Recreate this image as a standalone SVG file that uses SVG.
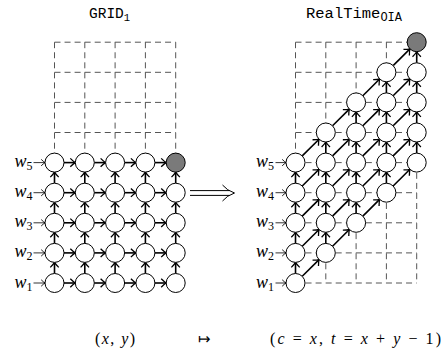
<svg xmlns="http://www.w3.org/2000/svg" width="444" height="362" viewBox="0 0 444 362">
<style>
.dash{stroke:#555;stroke-width:1;fill:none;stroke-dasharray:6 4.05}
.ar{stroke:#000;stroke-width:1.6;fill:none;marker-end:url(#ah)}
.in{stroke:#000;stroke-width:0.8;fill:none;marker-end:url(#ahs)}
.n{fill:#fff;stroke:#000;stroke-width:1}
.g{fill:#7a7a7a;stroke:#000;stroke-width:1}
.tt{font-family:"Liberation Mono",monospace;fill:#000}
.m{font-family:"Liberation Serif",serif;fill:#000}
.i{font-style:italic}
</style>
<defs>
<marker id="ah" markerUnits="userSpaceOnUse" markerWidth="12" markerHeight="12" refX="0" refY="0" viewBox="-6 -6 12 12" orient="auto" overflow="visible">
<path d="M-5,-4.2 Q-1.8,-1 0,0 Q-1.8,1 -5,4.2" fill="none" stroke="#000" stroke-width="1.3"/>
</marker>
<marker id="ahs" markerUnits="userSpaceOnUse" markerWidth="10" markerHeight="10" refX="0" refY="0" viewBox="-5 -5 10 10" orient="auto" overflow="visible">
<path d="M-3.8,-3.2 Q-1.3,-0.8 0,0 Q-1.3,0.8 -3.8,3.2" fill="none" stroke="#000" stroke-width="0.9"/>
</marker>
</defs>

<g id="titles">
<text class="tt" x="89" y="18" font-size="14.5">GRID<tspan font-size="10.5" dy="3">1</tspan></text>
<text class="tt" x="306" y="17.5" font-size="15.5">RealTime<tspan font-size="12" dy="3.5">OIA</tspan></text>
</g>

<g id="grid-left-dashed">
<path class="dash" d="M54.5,132.5H175.7M54.5,102.4H175.7M54.5,72.3H175.7M54.5,42.2H175.7"/>
<path class="dash" d="M54.5,42.2V162.6M84.8,42.2V162.6M115.1,42.2V162.6M145.4,42.2V162.6M175.7,42.2V162.6"/>
</g>

<g id="grid-right-dashed">
<path class="dash" d="M295.5,283H416.7M295.5,252.9H416.7M295.5,222.8H416.7M295.5,192.7H416.7M295.5,162.6H416.7M295.5,132.5H416.7M295.5,102.4H416.7M295.5,72.3H416.7M295.5,42.2H416.7"/>
<path class="dash" d="M295.5,42.2V283M325.8,42.2V283M356.1,42.2V283M386.4,42.2V283M416.7,42.2V283"/>
</g>

<g id="connectors">
<!-- left horizontal -->
<line class="ar" x1="64" y1="283" x2="75.3" y2="283"/><line class="ar" x1="94.3" y1="283" x2="105.6" y2="283"/><line class="ar" x1="124.6" y1="283" x2="135.9" y2="283"/><line class="ar" x1="154.9" y1="283" x2="166.2" y2="283"/>
<line class="ar" x1="64" y1="252.9" x2="75.3" y2="252.9"/><line class="ar" x1="94.3" y1="252.9" x2="105.6" y2="252.9"/><line class="ar" x1="124.6" y1="252.9" x2="135.9" y2="252.9"/><line class="ar" x1="154.9" y1="252.9" x2="166.2" y2="252.9"/>
<line class="ar" x1="64" y1="222.8" x2="75.3" y2="222.8"/><line class="ar" x1="94.3" y1="222.8" x2="105.6" y2="222.8"/><line class="ar" x1="124.6" y1="222.8" x2="135.9" y2="222.8"/><line class="ar" x1="154.9" y1="222.8" x2="166.2" y2="222.8"/>
<line class="ar" x1="64" y1="192.7" x2="75.3" y2="192.7"/><line class="ar" x1="94.3" y1="192.7" x2="105.6" y2="192.7"/><line class="ar" x1="124.6" y1="192.7" x2="135.9" y2="192.7"/><line class="ar" x1="154.9" y1="192.7" x2="166.2" y2="192.7"/>
<line class="ar" x1="64" y1="162.6" x2="75.3" y2="162.6"/><line class="ar" x1="94.3" y1="162.6" x2="105.6" y2="162.6"/><line class="ar" x1="124.6" y1="162.6" x2="135.9" y2="162.6"/><line class="ar" x1="154.9" y1="162.6" x2="166.2" y2="162.6"/>
<!-- left vertical -->
<line class="ar" x1="54.5" y1="273.5" x2="54.5" y2="262.4"/><line class="ar" x1="54.5" y1="243.4" x2="54.5" y2="232.3"/><line class="ar" x1="54.5" y1="213.3" x2="54.5" y2="202.2"/><line class="ar" x1="54.5" y1="183.2" x2="54.5" y2="172.1"/>
<line class="ar" x1="84.8" y1="273.5" x2="84.8" y2="262.4"/><line class="ar" x1="84.8" y1="243.4" x2="84.8" y2="232.3"/><line class="ar" x1="84.8" y1="213.3" x2="84.8" y2="202.2"/><line class="ar" x1="84.8" y1="183.2" x2="84.8" y2="172.1"/>
<line class="ar" x1="115.1" y1="273.5" x2="115.1" y2="262.4"/><line class="ar" x1="115.1" y1="243.4" x2="115.1" y2="232.3"/><line class="ar" x1="115.1" y1="213.3" x2="115.1" y2="202.2"/><line class="ar" x1="115.1" y1="183.2" x2="115.1" y2="172.1"/>
<line class="ar" x1="145.4" y1="273.5" x2="145.4" y2="262.4"/><line class="ar" x1="145.4" y1="243.4" x2="145.4" y2="232.3"/><line class="ar" x1="145.4" y1="213.3" x2="145.4" y2="202.2"/><line class="ar" x1="145.4" y1="183.2" x2="145.4" y2="172.1"/>
<line class="ar" x1="175.7" y1="273.5" x2="175.7" y2="262.4"/><line class="ar" x1="175.7" y1="243.4" x2="175.7" y2="232.3"/><line class="ar" x1="175.7" y1="213.3" x2="175.7" y2="202.2"/><line class="ar" x1="175.7" y1="183.2" x2="175.7" y2="172.1"/>
<!-- left inputs -->
<line class="in" x1="33.5" y1="283" x2="45" y2="283"/><line class="in" x1="33.5" y1="252.9" x2="45" y2="252.9"/><line class="in" x1="33.5" y1="222.8" x2="45" y2="222.8"/><line class="in" x1="33.5" y1="192.7" x2="45" y2="192.7"/><line class="in" x1="33.5" y1="162.6" x2="45" y2="162.6"/>

<!-- right vertical -->
<line class="ar" x1="295.5" y1="273.5" x2="295.5" y2="262.4"/><line class="ar" x1="295.5" y1="243.4" x2="295.5" y2="232.3"/><line class="ar" x1="295.5" y1="213.3" x2="295.5" y2="202.2"/><line class="ar" x1="295.5" y1="183.2" x2="295.5" y2="172.1"/>
<line class="ar" x1="325.8" y1="243.4" x2="325.8" y2="232.3"/><line class="ar" x1="325.8" y1="213.3" x2="325.8" y2="202.2"/><line class="ar" x1="325.8" y1="183.2" x2="325.8" y2="172.1"/><line class="ar" x1="325.8" y1="153.1" x2="325.8" y2="142"/>
<line class="ar" x1="356.1" y1="213.3" x2="356.1" y2="202.2"/><line class="ar" x1="356.1" y1="183.2" x2="356.1" y2="172.1"/><line class="ar" x1="356.1" y1="153.1" x2="356.1" y2="142"/><line class="ar" x1="356.1" y1="123" x2="356.1" y2="111.9"/>
<line class="ar" x1="386.4" y1="183.2" x2="386.4" y2="172.1"/><line class="ar" x1="386.4" y1="153.1" x2="386.4" y2="142"/><line class="ar" x1="386.4" y1="123" x2="386.4" y2="111.9"/><line class="ar" x1="386.4" y1="92.9" x2="386.4" y2="81.8"/>
<line class="ar" x1="416.7" y1="153.1" x2="416.7" y2="142"/><line class="ar" x1="416.7" y1="123" x2="416.7" y2="111.9"/><line class="ar" x1="416.7" y1="92.9" x2="416.7" y2="81.8"/><line class="ar" x1="416.7" y1="62.8" x2="416.7" y2="51.7"/>
<!-- right diagonal -->
<line class="ar" x1="302.24" y1="276.3" x2="319.06" y2="259.6"/><line class="ar" x1="302.24" y1="246.2" x2="319.06" y2="229.5"/><line class="ar" x1="302.24" y1="216.1" x2="319.06" y2="199.4"/><line class="ar" x1="302.24" y1="186" x2="319.06" y2="169.3"/><line class="ar" x1="302.24" y1="155.9" x2="319.06" y2="139.2"/>
<line class="ar" x1="332.54" y1="246.2" x2="349.36" y2="229.5"/><line class="ar" x1="332.54" y1="216.1" x2="349.36" y2="199.4"/><line class="ar" x1="332.54" y1="186" x2="349.36" y2="169.3"/><line class="ar" x1="332.54" y1="155.9" x2="349.36" y2="139.2"/><line class="ar" x1="332.54" y1="125.8" x2="349.36" y2="109.1"/>
<line class="ar" x1="362.84" y1="216.1" x2="379.66" y2="199.4"/><line class="ar" x1="362.84" y1="186" x2="379.66" y2="169.3"/><line class="ar" x1="362.84" y1="155.9" x2="379.66" y2="139.2"/><line class="ar" x1="362.84" y1="125.8" x2="379.66" y2="109.1"/><line class="ar" x1="362.84" y1="95.7" x2="379.66" y2="79"/>
<line class="ar" x1="393.14" y1="186" x2="409.96" y2="169.3"/><line class="ar" x1="393.14" y1="155.9" x2="409.96" y2="139.2"/><line class="ar" x1="393.14" y1="125.8" x2="409.96" y2="109.1"/><line class="ar" x1="393.14" y1="95.7" x2="409.96" y2="79"/><line class="ar" x1="393.14" y1="65.6" x2="409.96" y2="48.9"/>
<!-- right inputs -->
<line class="in" x1="275.5" y1="283" x2="286" y2="283"/><line class="in" x1="275.5" y1="252.9" x2="286" y2="252.9"/><line class="in" x1="275.5" y1="222.8" x2="286" y2="222.8"/><line class="in" x1="275.5" y1="192.7" x2="286" y2="192.7"/><line class="in" x1="275.5" y1="162.6" x2="286" y2="162.6"/>
<!-- mapping arrow -->
<path d="M190,190.6H229.5M190,195.4H229.5" stroke="#000" stroke-width="1" fill="none"/>
<path d="M222.5,185 Q227,190.5 234.5,193 Q227,195.5 222.5,201" stroke="#000" stroke-width="1" fill="none"/>
</g>

<g id="nodes-left">
<g id="L11"><circle class="n" cx="54.5" cy="283" r="9.5"/></g>
<g id="L21"><circle class="n" cx="84.8" cy="283" r="9.5"/></g>
<g id="L31"><circle class="n" cx="115.1" cy="283" r="9.5"/></g>
<g id="L41"><circle class="n" cx="145.4" cy="283" r="9.5"/></g>
<g id="L51"><circle class="n" cx="175.7" cy="283" r="9.5"/></g>
<g id="L12"><circle class="n" cx="54.5" cy="252.9" r="9.5"/></g>
<g id="L22"><circle class="n" cx="84.8" cy="252.9" r="9.5"/></g>
<g id="L32"><circle class="n" cx="115.1" cy="252.9" r="9.5"/></g>
<g id="L42"><circle class="n" cx="145.4" cy="252.9" r="9.5"/></g>
<g id="L52"><circle class="n" cx="175.7" cy="252.9" r="9.5"/></g>
<g id="L13"><circle class="n" cx="54.5" cy="222.8" r="9.5"/></g>
<g id="L23"><circle class="n" cx="84.8" cy="222.8" r="9.5"/></g>
<g id="L33"><circle class="n" cx="115.1" cy="222.8" r="9.5"/></g>
<g id="L43"><circle class="n" cx="145.4" cy="222.8" r="9.5"/></g>
<g id="L53"><circle class="n" cx="175.7" cy="222.8" r="9.5"/></g>
<g id="L14"><circle class="n" cx="54.5" cy="192.7" r="9.5"/></g>
<g id="L24"><circle class="n" cx="84.8" cy="192.7" r="9.5"/></g>
<g id="L34"><circle class="n" cx="115.1" cy="192.7" r="9.5"/></g>
<g id="L44"><circle class="n" cx="145.4" cy="192.7" r="9.5"/></g>
<g id="L54"><circle class="n" cx="175.7" cy="192.7" r="9.5"/></g>
<g id="L15"><circle class="n" cx="54.5" cy="162.6" r="9.5"/></g>
<g id="L25"><circle class="n" cx="84.8" cy="162.6" r="9.5"/></g>
<g id="L35"><circle class="n" cx="115.1" cy="162.6" r="9.5"/></g>
<g id="L45"><circle class="n" cx="145.4" cy="162.6" r="9.5"/></g>
<g id="L55"><circle class="g" cx="175.7" cy="162.6" r="9.5"/></g>
</g>

<g id="nodes-right">
<g id="R11"><circle class="n" cx="295.5" cy="283" r="9.5"/></g>
<g id="R12"><circle class="n" cx="295.5" cy="252.9" r="9.5"/></g>
<g id="R13"><circle class="n" cx="295.5" cy="222.8" r="9.5"/></g>
<g id="R14"><circle class="n" cx="295.5" cy="192.7" r="9.5"/></g>
<g id="R15"><circle class="n" cx="295.5" cy="162.6" r="9.5"/></g>
<g id="R22"><circle class="n" cx="325.8" cy="252.9" r="9.5"/></g>
<g id="R23"><circle class="n" cx="325.8" cy="222.8" r="9.5"/></g>
<g id="R24"><circle class="n" cx="325.8" cy="192.7" r="9.5"/></g>
<g id="R25"><circle class="n" cx="325.8" cy="162.6" r="9.5"/></g>
<g id="R26"><circle class="n" cx="325.8" cy="132.5" r="9.5"/></g>
<g id="R33"><circle class="n" cx="356.1" cy="222.8" r="9.5"/></g>
<g id="R34"><circle class="n" cx="356.1" cy="192.7" r="9.5"/></g>
<g id="R35"><circle class="n" cx="356.1" cy="162.6" r="9.5"/></g>
<g id="R36"><circle class="n" cx="356.1" cy="132.5" r="9.5"/></g>
<g id="R37"><circle class="n" cx="356.1" cy="102.4" r="9.5"/></g>
<g id="R44"><circle class="n" cx="386.4" cy="192.7" r="9.5"/></g>
<g id="R45"><circle class="n" cx="386.4" cy="162.6" r="9.5"/></g>
<g id="R46"><circle class="n" cx="386.4" cy="132.5" r="9.5"/></g>
<g id="R47"><circle class="n" cx="386.4" cy="102.4" r="9.5"/></g>
<g id="R48"><circle class="n" cx="386.4" cy="72.3" r="9.5"/></g>
<g id="R55"><circle class="n" cx="416.7" cy="162.6" r="9.5"/></g>
<g id="R56"><circle class="n" cx="416.7" cy="132.5" r="9.5"/></g>
<g id="R57"><circle class="n" cx="416.7" cy="102.4" r="9.5"/></g>
<g id="R58"><circle class="n" cx="416.7" cy="72.3" r="9.5"/></g>
<g id="R59"><circle class="g" cx="416.7" cy="42.2" r="9.5"/></g>
</g>

<g id="labels-left" class="m" font-size="18">
<text x="14.5" y="287.5"><tspan class="i">w</tspan><tspan font-size="12" dy="3">1</tspan></text>
<text x="14.5" y="257.4"><tspan class="i">w</tspan><tspan font-size="12" dy="3">2</tspan></text>
<text x="14.5" y="227.3"><tspan class="i">w</tspan><tspan font-size="12" dy="3">3</tspan></text>
<text x="14.5" y="197.2"><tspan class="i">w</tspan><tspan font-size="12" dy="3">4</tspan></text>
<text x="14.5" y="167.1"><tspan class="i">w</tspan><tspan font-size="12" dy="3">5</tspan></text>
</g>
<g id="labels-right" class="m" font-size="18">
<text x="256" y="287.5"><tspan class="i">w</tspan><tspan font-size="12" dy="3">1</tspan></text>
<text x="256" y="257.4"><tspan class="i">w</tspan><tspan font-size="12" dy="3">2</tspan></text>
<text x="256" y="227.3"><tspan class="i">w</tspan><tspan font-size="12" dy="3">3</tspan></text>
<text x="256" y="197.2"><tspan class="i">w</tspan><tspan font-size="12" dy="3">4</tspan></text>
<text x="256" y="167.1"><tspan class="i">w</tspan><tspan font-size="12" dy="3">5</tspan></text>
</g>

<g id="mapping" class="m" font-size="16">
<text x="95" y="344" textLength="40" lengthAdjust="spacing">(<tspan class="i">x</tspan>, <tspan class="i">y</tspan>)</text>
<text x="198" y="344" font-family="DejaVu Sans, sans-serif" font-size="15">↦</text>
<text x="270" y="344" textLength="171" lengthAdjust="spacing">(<tspan class="i">c</tspan> = <tspan class="i">x</tspan>, <tspan class="i">t</tspan> = <tspan class="i">x</tspan> + <tspan class="i">y</tspan> − 1)</text>
</g>
</svg>
